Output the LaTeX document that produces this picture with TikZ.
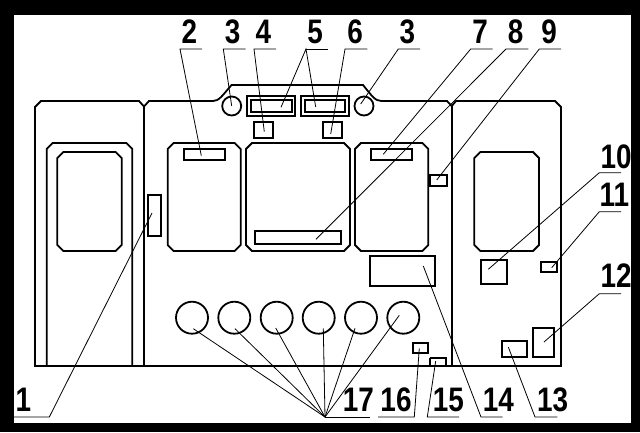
\documentclass[tikz,border=0pt]{standalone}
\usepackage{fontspec}
\setmainfont{Liberation Sans}
\tikzset{
  heavy/.style={line width=1.8pt},
  leader/.style={line width=0.8pt},
  num/.style={inner sep=0pt, xscale=0.82, font=\fontsize{34}{34}\selectfont\bfseries}
}
% box with cut corners: left, top, right, bottom
\newcommand{\chamfbox}[4]{\draw[heavy] (#1+6,#2) -- (#3-6,#2) -- (#3,#2+6) -- (#3,#4-6) -- (#3-6,#4) -- (#1+6,#4) -- (#1,#4-6) -- (#1,#2+6) -- cycle;}
\begin{document}
\begin{tikzpicture}[x=1pt,y=-1pt]
  \useasboundingbox (0,0) rectangle (640,432);
  % Frame
  \fill[black] (0,0) rectangle (640,432);
  \fill[white] (14,15) rectangle (631,422.5);

  % Body outline
  \draw[heavy] (35,366) -- (35,107) -- (41,101) -- (139,101) -- (144,106.5) -- (149,101) -- (213,101)
    .. controls (219,101) and (222,96) .. (231.5,85) -- (363,85)
    .. controls (372,96) and (375,101) .. (381.5,101) -- (447,101) -- (451.7,106) -- (456,101) -- (555,101)
    -- (561,107) -- (561,366) -- cycle;
  \draw[heavy] (144,106.5) -- (144,366);
  \draw[heavy] (451.7,106) -- (451.7,366);

  % Door and windows
  \draw[heavy] (46.7,366) -- (46.7,149) -- (52.7,143) -- (126.3,143) -- (132.3,149) -- (132.3,366);
  \chamfbox{57.3}{152}{121.7}{251}
  \chamfbox{474.3}{152}{539}{251}

  % Panels
  \chamfbox{167.7}{143}{240.7}{251}
  \chamfbox{246}{143}{350}{251}
  \chamfbox{355}{143}{428.3}{251}

  % Small boxes
  \draw[heavy] (148.3,195) rectangle (161,236);
  \draw[heavy] (183.7,149.3) rectangle (224.7,159.7);
  \draw[heavy] (247,96.3) rectangle (295,115.7);
  \draw[heavy] (251,100.3) rectangle (291.7,111.7);
  \draw[heavy] (301,96.3) rectangle (349,115.7);
  \draw[heavy] (305,100.3) rectangle (345,111.7);
  \draw[heavy] (254,122) rectangle (273,138.3);
  \draw[heavy] (323,122) rectangle (341.7,138.3);
  \draw[heavy] (371,149.3) rectangle (412,159.7);
  \draw[heavy] (430,174.7) rectangle (447.3,186);
  \draw[heavy] (255,231) rectangle (340.7,244.3);
  \draw[heavy] (370,256.3) rectangle (435,286);
  \draw[heavy] (480.7,260) rectangle (507,283.7);
  \draw[heavy] (541,261.7) rectangle (557.3,272.3);
  \draw[heavy] (533.3,327.7) rectangle (553.7,357.3);
  \draw[heavy] (502,340.7) rectangle (527.3,357.3);
  \draw[heavy] (412.7,343.3) rectangle (428.3,352.7);
  \draw[heavy] (429.7,357.7) -- (429.7,366) (429.7,357.7) -- (446.3,357.7) -- (446.3,366);

  % Round parts
  \draw[heavy] (231.7,106) circle [radius=9.5];
  \draw[heavy] (364,106) circle [radius=9.5];
  \foreach \cx in {192,234.3,276.7,318.7,361,403.3}
    \draw[heavy] (\cx,317.7) circle [radius=16];

  % Numbers and their leaders: number, x, y, shelf start (knee), shelf end, shelf y, tip
  \foreach \i/\txt/\lx/\ly/\kx/\ex/\sy/\tx/\ty in {
      a/1/23.3/400/49.3/14/417/152/213,
      b/2/189.3/32/180/202/49/201.3/155.7,
      c/3/232.7/32/223.3/245.7/49/231.7/106,
      d/4/263.3/32/254/276/49/264.3/131.7,
      e/6/355/32/345/367.3/49/330.7/134,
      f/3/407.3/32/398.3/420/49/360.7/104,
      g/7/480/32/470.7/492.7/49/383.3/154.3,
      h/8/515.7/32/506/528.3/49/316/239.3,
      i/9/549/32/539.3/561/49/436.7/180,
      j/10/616/156.7/599.3/621/172.7/488.3/269.3,
      k/11/614.3/195/599.3/621/211.7/551.7/267.7,
      l/12/616/276/599.3/621/293.7/544/342,
      m/13/552.7/400/535/557.3/417/508.3/347,
      n/14/498.3/400/481/502.7/417/423.3/266,
      o/15/448.3/400/427.3/459/417/435.7/361,
      p/16/396/400/414.3/378/417/419.3/348.3
    } {
    \node[num] (num\i) at (\lx,\ly) {\txt};
    \coordinate (knee\i) at (\kx,\sy);
    \coordinate (shelf\i) at (\ex,\sy);
    \coordinate (tip\i) at (\tx,\ty);
    \draw[leader] (tip\i) -- (knee\i) -- (shelf\i);
  }

  % Number 5 has two leaders
  \node[num] (numfive) at (315,32) {5};
  \coordinate (kneefive) at (306,49);
  \coordinate (shelffive) at (328.3,49);
  \draw[leader] (281,107.3) -- (kneefive) -- (315.7,107);
  \draw[leader] (kneefive) -- (shelffive);

  % Number 17 has six leaders
  \node[num] (numseven) at (358.3,400) {17};
  \coordinate (kneeseven) at (325,417);
  \coordinate (shelfseven) at (370,417);
  \draw[leader] (kneeseven) -- (shelfseven);
  \foreach \tx/\ty in {193.3/328.7,235/328.7,275.7/328,323.3/328.3,355/328.3,399.3/315.3}
    \draw[leader] (kneeseven) -- (\tx,\ty);
\end{tikzpicture}
\end{document}
